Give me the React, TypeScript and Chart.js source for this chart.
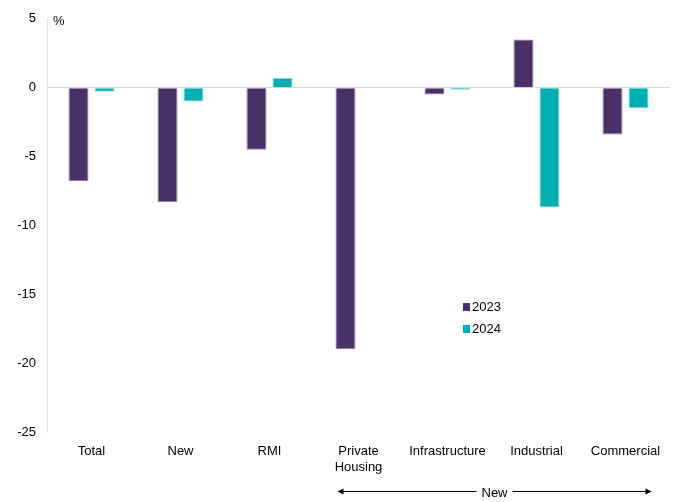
import React, { useEffect, useRef } from 'react';
import { Chart, registerables } from 'chart.js';

Chart.register(...registerables);

// Construction output, annual % change
const categories: (string | string[])[] = ['Total', 'New', 'RMI', ['Private', 'Housing'], 'Infrastructure', 'Industrial', 'Commercial'];
const values2023 = [-6.8, -8.3, -4.5, -19.0, -0.5, 3.5, -3.4];
const values2024 = [-0.3, -1.0, 0.7, null, -0.15, -8.7, -1.5];
const seriesLabels = ['2023', '2024'];
const seriesColors = ['#4B3068', '#00B0B0'];
const seriesEdges = ['#8F7FA6', '#7ED6D6'];
const yMin = -25;
const yMax = 5;
const yStep = 5;
const unitLabel = '%';
const groupLabel = 'New';
const groupFirst = 3; // Private Housing
const groupLast = 6; // Commercial

const FONT = "'Liberation Sans', Arial, sans-serif";

const overlayPlugin = {
  id: 'overlay',
  afterDraw(chart: any) {
    const { ctx, chartArea, scales } = chart;
    const x = scales.x;
    ctx.save();
    ctx.fillStyle = '#000';
    ctx.font = `13px ${FONT}`;
    ctx.textBaseline = 'middle';
    ctx.textAlign = 'left';
    // unit label next to axis top
    ctx.fillText(unitLabel, chartArea.left + 6, chartArea.top + 3);

    // in-plot legend
    const lx = 463;
    const ly = 307;
    chart.data.datasets.forEach((ds: any, i: number) => {
      const y = ly + i * 22;
      ctx.fillStyle = ds.backgroundColor;
      ctx.fillRect(lx, y - 4, 7, 8);
      ctx.fillStyle = '#000';
      ctx.fillText(ds.label, lx + 9, y);
    });

    // bracket arrow under the "New" sub-categories
    const x0 = x.getPixelForValue(groupFirst) - 21;
    const x1 = x.getPixelForValue(groupLast) + 26;
    const ay = 491;
    ctx.textAlign = 'center';
    const tx = (x0 + x1) / 2;
    ctx.fillText(groupLabel, tx, ay + 2);
    const tw = ctx.measureText(groupLabel).width;
    ctx.strokeStyle = '#000';
    ctx.lineWidth = 1;
    ctx.beginPath();
    ctx.moveTo(x0 + 5, ay + 0.5);
    ctx.lineTo(tx - tw / 2 - 5, ay + 0.5);
    ctx.moveTo(tx + tw / 2 + 5, ay + 0.5);
    ctx.lineTo(x1 - 5, ay + 0.5);
    ctx.stroke();
    ctx.beginPath();
    ctx.moveTo(x0, ay + 0.5);
    ctx.lineTo(x0 + 6, ay - 2.5);
    ctx.lineTo(x0 + 6, ay + 3.5);
    ctx.closePath();
    ctx.moveTo(x1, ay + 0.5);
    ctx.lineTo(x1 - 6, ay - 2.5);
    ctx.lineTo(x1 - 6, ay + 3.5);
    ctx.closePath();
    ctx.fill();
    ctx.restore();
  },
};

export default function App() {
  const canvasRef = useRef<HTMLCanvasElement | null>(null);

  useEffect(() => {
    document.body.style.margin = '0';
    const canvas = canvasRef.current;
    if (!canvas) return;
    const chart = new Chart(canvas, {
      type: 'bar',
      data: {
        labels: categories,
        datasets: [
          {
            label: seriesLabels[0],
            data: values2023,
            backgroundColor: seriesColors[0],
            borderColor: seriesEdges[0],
            borderWidth: 1,
          },
          {
            label: seriesLabels[1],
            data: values2024,
            backgroundColor: seriesColors[1],
            borderColor: seriesEdges[1],
            borderWidth: 1,
          },
        ],
      },
      options: {
        responsive: false,
        animation: false,
        maintainAspectRatio: false,
        datasets: {
          bar: {
            barPercentage: 0.77,
            categoryPercentage: 0.584,
          },
        },
        layout: { padding: { top: 18, right: 8, left: 0, bottom: 0 } },
        plugins: {
          legend: { display: false },
          tooltip: { enabled: false },
        },
        scales: {
          x: {
            grid: { display: false },
            border: { display: false },
            ticks: {
              color: '#000',
              font: { family: FONT, size: 13 },
              padding: 4,
              maxRotation: 0,
              autoSkip: false,
            },
            afterFit(scale: any) {
              scale.height = 70;
            },
          },
          y: {
            min: yMin,
            max: yMax,
            ticks: {
              stepSize: yStep,
              color: '#000',
              font: { family: FONT, size: 13 },
              padding: 11,
            },
            grid: {
              drawTicks: false,
              color: (c: any) => (c.tick && c.tick.value === 0 ? '#D9D9D9' : 'rgba(0,0,0,0)'),
              lineWidth: 1,
            },
            border: { display: true, color: '#E0E0E0', width: 1 },
            afterFit(scale: any) {
              scale.width = 47;
            },
          },
        },
      },
      plugins: [overlayPlugin],
    });
    return () => chart.destroy();
  }, []);

  return (
    <div style={{ width: 678, height: 502, background: '#fff' }}>
      <canvas ref={canvasRef} width={678} height={502} style={{ display: 'block' }} />
    </div>
  );
}
